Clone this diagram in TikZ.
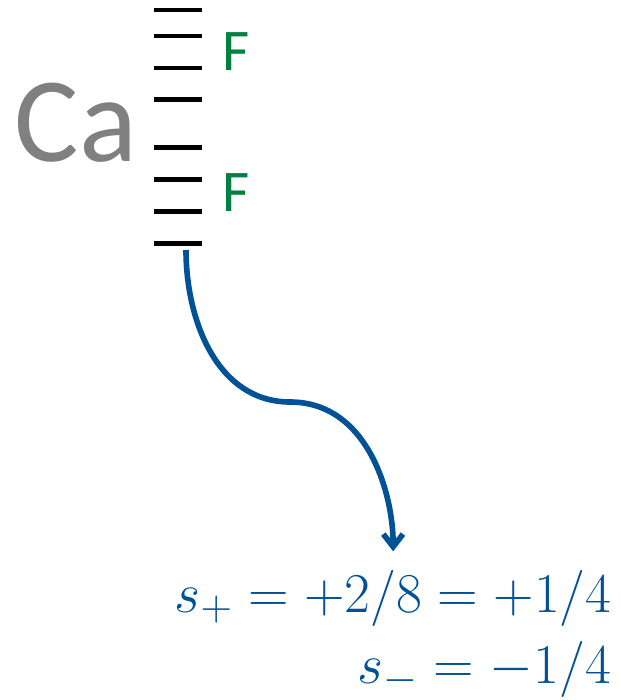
\RequirePackage{fix-cm}
\documentclass[tikz,border=0pt]{standalone}
\usepackage{fontspec}
\setsansfont{Carlito}
\usetikzlibrary{arrows.meta}
\definecolor{capblue}{RGB}{0,81,149}
\definecolor{fgreen}{RGB}{0,128,64}
\DeclareMathSizes{40}{40}{31}{24}
\begin{document}
\begin{tikzpicture}[>={Straight Barb[length=9pt,width=14pt]},
        tick/.style={line width=3.4pt},
        ion/.style={inner sep=0pt, anchor=base, text=gray, font=\sffamily\fontsize{86}{90}\selectfont},
        flab/.style={inner sep=0pt, anchor=base, text=fgreen, font=\sffamily\fontsize{42}{46}\selectfont},
        spin/.style={inner sep=0pt, anchor=base east, text=capblue, font=\fontsize{40}{48}\selectfont}]
        \useasboundingbox (0,0) rectangle (15.5,-17.5);

        \draw[tick] (3.85,-0.25) -- (5.05,-0.25);
        \draw[tick] (3.85,-0.9) -- (5.05,-0.9);
        \draw[tick] (3.85,-1.7) -- (5.05,-1.7);
        \draw[tick] (3.85,-2.48) -- (5.05,-2.48);
        \draw[tick] (3.85,-3.68) -- (5.05,-3.68);
        \draw[tick] (3.85,-4.48) -- (5.05,-4.48);
        \draw[tick] (3.85,-5.28) -- (5.05,-5.28);
        \draw[tick] (3.85,-6.08) -- (5.05,-6.08);

        \node[ion] (ca) at (1.9,-4.05) {Ca};
        \node[flab] (f1) at (5.9,-1.775) {F};
        \node[flab] (f2) at (5.9,-5.3) {F};

        \node[spin] (splus) at (15.3,-15.3) {$s_+ = +2/8 = +1/4$};
        \node[spin] (sminus) at (15.28,-17.075) {$s_- = -1/4$};

        \coordinate (src) at (4.65,-6.25);
        \coordinate (turn) at (7.25,-10.05);
        \draw[->, capblue, line width=4pt, shorten >=13pt] (src) to[out=-90, in=180] (turn) to[out=0, in=90] (splus.north);
    \end{tikzpicture}
\end{document}
